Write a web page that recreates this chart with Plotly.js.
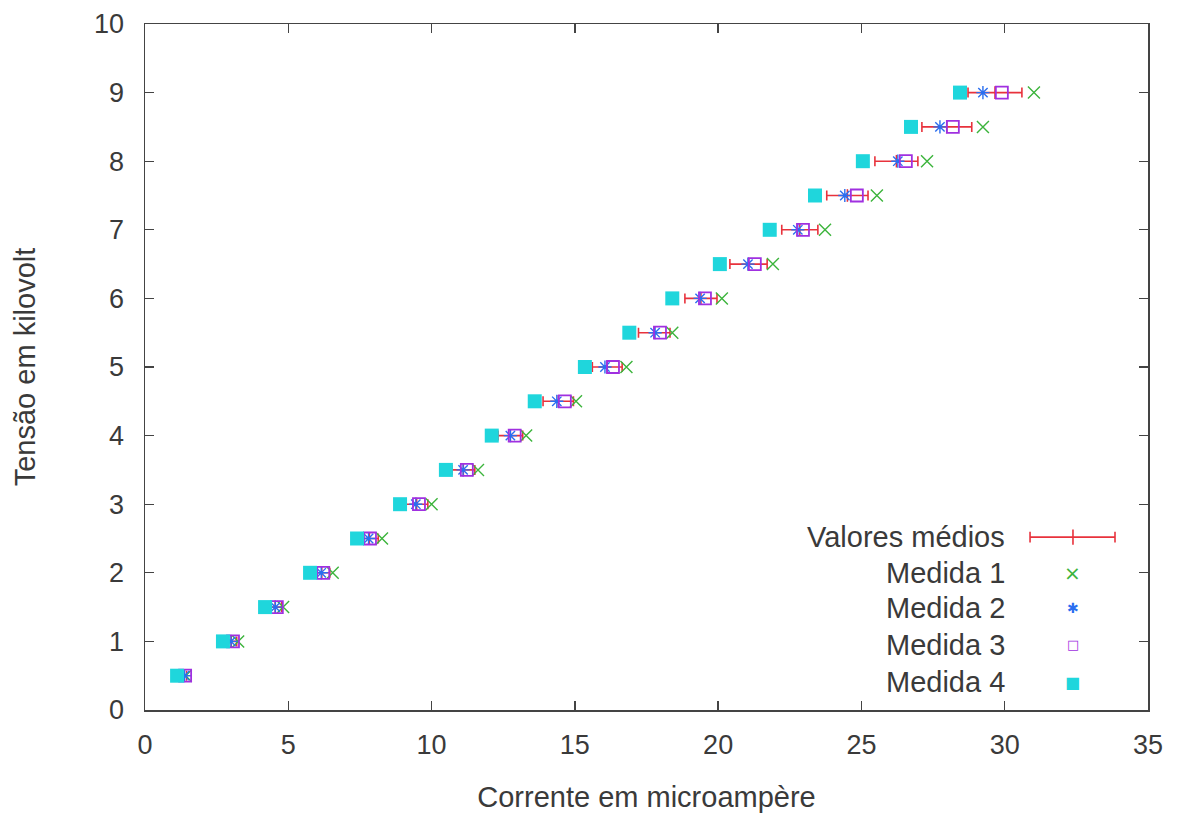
<!DOCTYPE html>
<html>
<head>
<meta charset="utf-8">
<script src="https://cdn.plot.ly/plotly-3.0.1.min.js"></script>
<style>html,body{margin:0;padding:0;background:#fff;}#chart{width:1179px;height:817px;}</style>
</head>
<body>
<div id="chart"></div>
<script>
// Tensão (kV)
const tensao = [0.5,1,1.5,2,2.5,3,3.5,4,4.5,5,5.5,6,6.5,7,7.5,8,8.5,9];
// Corrente (µA) per measurement
const medida1 = [1.42,3.25,4.82,6.55,8.27,10.0,11.62,13.3,15.04,16.8,18.4,20.13,21.91,23.73,25.54,27.29,29.24,31.02];
const medida2 = [1.38,3.0,4.55,6.15,7.8,9.45,11.1,12.75,14.37,16.05,17.8,19.37,21.04,22.78,24.42,26.27,27.74,29.24];
const medida3 = [1.4,3.07,4.6,6.22,7.85,9.56,11.23,12.9,14.65,16.33,17.97,19.54,21.28,22.96,24.84,26.55,28.19,29.9];
const medida4 = [1.12,2.72,4.19,5.76,7.4,8.9,10.5,12.1,13.6,15.35,16.9,18.4,20.06,21.8,23.38,25.05,26.73,28.44];
// Valores médios and their spread
const media = [1.33,3.01,4.54,6.17,7.83,9.48,11.11,12.75,14.42,16.13,17.77,19.4,21.06,22.85,24.51,26.22,27.98,29.66];
const erro = [0.12,0.19,0.23,0.28,0.31,0.39,0.4,0.43,0.53,0.52,0.55,0.56,0.65,0.63,0.72,0.75,0.87,0.94];

const legendLabels = ["Valores médios","Medida 1","Medida 2","Medida 3","Medida 4"];
const xTicks = [0,5,10,15,20,25,30,35];
const yTicks = [0,1,2,3,4,5,6,7,8,9,10];

const cRed = '#e8323c', cGreen = '#3cb43c', cBlue = '#2a6ef0', cPurple = '#a030e0', cCyan = '#1fd6dc';
const fam = 'Liberation Sans, Arial, sans-serif';
const txtCol = '#3a3a3a';

const traces = [
  {x: media, y: tensao, type:'scatter', mode:'markers', name: legendLabels[0],
   marker:{symbol:'line-ns-open', size:9, color:cRed, line:{color:cRed, width:1.5}},
   error_x:{type:'data', array: erro, visible:true, color:cRed, thickness:1.6, width:5}},
  {x: medida1, y: tensao, type:'scatter', mode:'markers', name: legendLabels[1],
   marker:{symbol:'x-thin-open', size:12, color:cGreen, line:{color:cGreen, width:1.4}}},
  {x: medida2, y: tensao, type:'scatter', mode:'markers', name: legendLabels[2],
   marker:{symbol:'asterisk-open', size:11, color:cBlue, line:{color:cBlue, width:1.4}}},
  {x: medida3, y: tensao, type:'scatter', mode:'markers', name: legendLabels[3],
   marker:{symbol:'square-open', size:12, color:cPurple, line:{color:cPurple, width:1.8}}},
  {x: medida4, y: tensao, type:'scatter', mode:'markers', name: legendLabels[4],
   marker:{symbol:'square', size:14, color:cCyan}}
];

// legend drawn gnuplot-style: text right-aligned, key sample to the right
const legY = [0.252, 0.1997, 0.1487, 0.0948, 0.0408];
const legSym = [null, '×', '✱', '□', '■'];
const legSize = [0, 20, 14, 13, 16];
const legCol = [cRed, cGreen, cBlue, cPurple, cCyan];
const annotations = [];
const shapes = [];
legendLabels.forEach((lab, i) => {
  annotations.push({xref:'paper', yref:'paper', x:0.8594, y:legY[i], xanchor:'right', yanchor:'middle',
    text: lab, showarrow:false, font:{family:fam, size:29, color:txtCol}});
  if (legSym[i]) {
    annotations.push({xref:'paper', yref:'paper', x:0.9252, y:legY[i], xanchor:'center', yanchor:'middle',
      text: legSym[i], showarrow:false, font:{family:'DejaVu Sans, sans-serif', size: legSize[i], color: legCol[i]}});
  }
});
shapes.push({type:'line', xref:'paper', yref:'paper', x0:0.8824, x1:0.9671, y0:legY[0], y1:legY[0], line:{color:cRed, width:1.6}});
shapes.push({type:'line', xref:'paper', yref:'paper', x0:0.8824, x1:0.8824, y0:legY[0]-0.008, y1:legY[0]+0.008, line:{color:cRed, width:1.6}});
shapes.push({type:'line', xref:'paper', yref:'paper', x0:0.9671, x1:0.9671, y0:legY[0]-0.008, y1:legY[0]+0.008, line:{color:cRed, width:1.6}});
shapes.push({type:'line', xref:'paper', yref:'paper', x0:0.9252, x1:0.9252, y0:legY[0]-0.011, y1:legY[0]+0.011, line:{color:cRed, width:1.6}});

const tickFont = {family:fam, size:27, color:txtCol};
const titleFont = {family:fam, size:29, color:txtCol};
const layout = {
  width:1179, height:817,
  margin:{l:145, r:31, t:24, b:107},
  paper_bgcolor:'#fff', plot_bgcolor:'#fff',
  showlegend:false,
  font: tickFont,
  xaxis:{range:[0,35], tickvals:xTicks, ticktext:xTicks.map(String), ticks:'inside', ticklen:9, tickwidth:1.3, tickcolor:'#444',
    showline:true, linecolor:'#444', linewidth:1.5, mirror:'allticks', showgrid:false, zeroline:false,
    ticklabelstandoff:10,
    tickfont:tickFont, title:{text:'Corrente em microampère', font:titleFont, standoff:28}},
  yaxis:{range:[0,10], tickvals:yTicks, ticktext:yTicks.map(String), ticks:'inside', ticklen:9, tickwidth:1.3, tickcolor:'#444',
    showline:true, linecolor:'#444', linewidth:1.5, mirror:'allticks', showgrid:false, zeroline:false,
    ticklabelstandoff:14,
    tickfont:tickFont, title:{text:'Tensão em kilovolt', font:titleFont, standoff:50}},
  annotations: annotations,
  shapes: shapes
};
Plotly.newPlot('chart', traces, layout, {displayModeBar:false, staticPlot:true});
</script>
</body>
</html>
